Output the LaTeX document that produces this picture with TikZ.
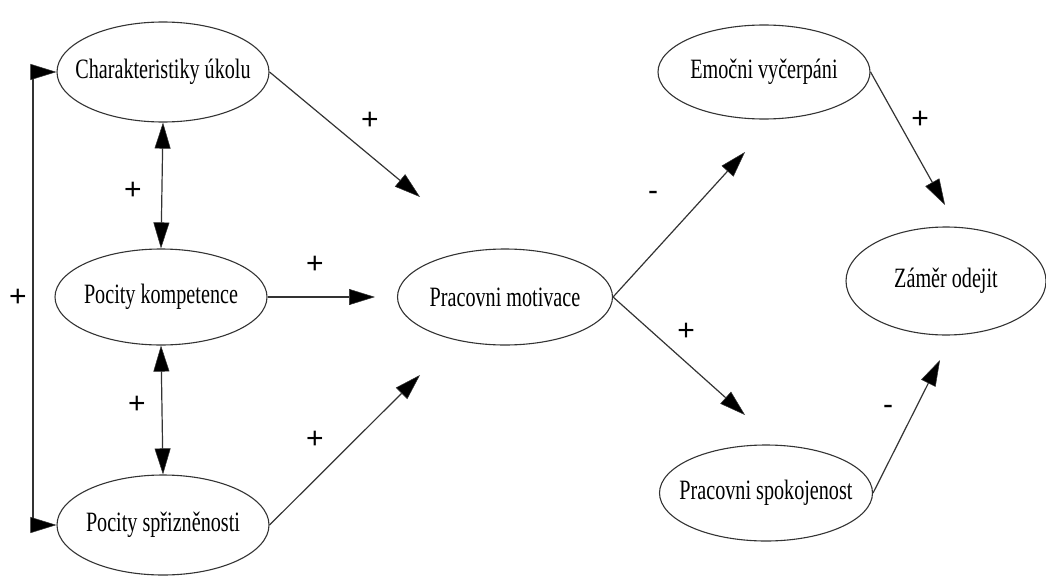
\documentclass[tikz,border=0pt]{standalone}
\usepackage{fontspec}
\setmainfont{Liberation Serif}[FakeStretch=0.72]
\newfontfamily\signfont{Liberation Sans}
\usetikzlibrary{shapes.geometric,arrows.meta}
\newcommand{\lbl}[1]{\makebox[0pt]{#1}}
\tikzset{mytip/.tip={Triangle[length=26pt,width=16pt,fill=black,line width=0.5pt]}}
\begin{document}
\begin{tikzpicture}[x=1pt,y=-1pt,
  ell/.style={ellipse,draw=black!80,line width=1.1pt,minimum width=212pt,minimum height=100pt,inner sep=0pt,font=\fontsize{28}{32}\selectfont},
  conn/.style={draw=black!80,line width=1.2pt,-{mytip}},
  bi/.style={draw=black!80,line width=1.2pt,{mytip}-{mytip}},
  sign/.style={font=\signfont\fontsize{30}{30}\selectfont,inner sep=0pt}]
\useasboundingbox (0,0) rectangle (1046,578);
\node[ell] (char) at (163,72) {\lbl{Charakteristiky úkolu}};
\node[ell,minimum height=96pt] (komp) at (161,297) {\lbl{Pocity kompetence}};
\node[ell] (spr) at (163,525) {\lbl{Pocity spřizněnosti}};
\node[ell,minimum width=215pt,minimum height=96pt] (mot) at (505,297) {\lbl{Pracovni motivace}};
\node[ell,minimum height=94pt] (emo) at (764,72) {\lbl{Emočni vyčerpáni}};
\node[ell,minimum width=200pt,minimum height=108pt] (zam) at (946,281) {\lbl{Záměr odejit}};
\node[ell,minimum width=213pt,minimum height=96pt] (spok) at (766,493) {\lbl{Pracovni spokojenost}};

\coordinate (lt) at (33,72);
\coordinate (lb) at (33,525);
\coordinate (m1) at (420,197);
\coordinate (m2) at (375,297);
\coordinate (m3) at (420,375);
\coordinate (e1) at (745,152);
\coordinate (s1) at (745,415);
\coordinate (z1) at (945,205);
\coordinate (z2) at (940,360);

\draw[bi] (char.west) -- (lt) -- (lb) -- (spr.west);
\draw[bi] (char.south) -- (komp.north);
\draw[bi] (komp.south) -- (spr.north);
\draw[conn] (char.east) -- (m1);
\draw[conn] (komp.east) -- (m2);
\draw[conn] (spr.east) -- (m3);
\draw[conn] (mot.east) -- (e1);
\draw[conn] (mot.east) -- (s1);
\draw[conn] (emo.east) -- (z1);
\draw[conn] (spok.east) -- (z2);

\node[sign] (p1) at (370,121) {+};
\node[sign] (p2) at (133,191) {+};
\node[sign] (p3) at (315,265) {+};
\node[sign] (p4) at (137,405) {+};
\node[sign] (p5) at (315,440) {+};
\node[sign] (p6) at (18,298) {+};
\node[sign] (p7) at (653,196) {-};
\node[sign] (p8) at (686,332) {+};
\node[sign] (p9) at (920,120) {+};
\node[sign] (p10) at (888,410) {-};
\end{tikzpicture}
\end{document}
